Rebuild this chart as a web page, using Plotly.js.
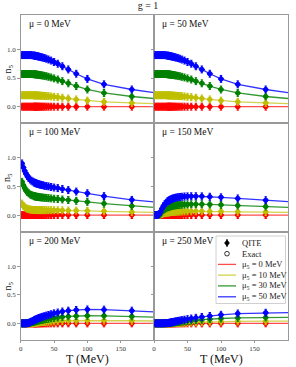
<!DOCTYPE html>
<html><head><meta charset="utf-8">
<script src="https://cdn.plot.ly/plotly-3.0.1.min.js"></script>
<style>html,body{margin:0;padding:0;background:#fff}#plot{width:296px;height:367px}</style>
</head><body><div id="plot"></div>
<script>
// ---------------- DATA ----------------
const T_exact = [2,4,6,8,10,12,14,16,18,20,20.8,21.7,22.7,23.8,25,26.3,27.8,29.4,31.3,33.3,35.7,38.5,41.7,45.5,50,55.6,62.5,71.4,83.3,100,125,166.7,200];
const T_qite  = [2,4,6,8,10,12,14,16,18,20,20.8,21.7,22.7,23.8,25,26.3,27.8,29.4,31.3,33.3,35.7,38.5,41.7,45.5,50,55.6,62.5,71.4,83.3,100,125,166.7];
const QITE_ERR = 0.06;
const muLabels = ['μ = 0 MeV','μ = 50 MeV','μ = 100 MeV','μ = 150 MeV','μ = 200 MeV','μ = 250 MeV'];
const mu5Labels = ['μ<sub>5</sub> = 0 MeV','μ<sub>5</sub> = 10 MeV','μ<sub>5</sub> = 30 MeV','μ<sub>5</sub> = 50 MeV'];
const xTicks = [0,50,100,150];
const yTicks = [0,0.5,1.0];
const yTickText = ['0.0','0.5','1.0'];

const red_all = [0,0,0,0,0,0,0,0,0,0,0,0,0,0,0,0,0,0,0,0,0,0,0,0,0,0,0,0,0,0,0,0,0];

// mu = 0
const mu0_y10 = [0.20,0.20,0.20,0.20,0.20,0.20,0.20,0.20,0.199,0.198, 0.198,0.197,0.197,0.196,0.195, 0.195,0.194,0.193,0.191,0.19, 0.188,0.186,0.183,0.178,0.173, 0.166,0.156,0.143,0.126,0.106, 0.085,0.065,0.053];
const mu0_y30 = [0.57,0.57,0.57,0.57,0.57,0.57,0.57,0.57,0.568,0.567, 0.566,0.564,0.563,0.561,0.559, 0.557,0.554,0.551,0.547,0.543, 0.538,0.531,0.522,0.51,0.494, 0.474,0.445,0.408,0.36,0.30, 0.24,0.178,0.143];
const mu0_y50 = [0.90,0.90,0.90,0.90,0.90,0.90,0.90,0.90,0.895,0.893, 0.89,0.888,0.886,0.883,0.88, 0.877,0.873,0.868,0.862,0.856, 0.848,0.837,0.823,0.805,0.78, 0.75,0.705,0.65,0.575,0.485, 0.39,0.30,0.245];
// mu = 50
const mu50_y10 = [0.20,0.20,0.20,0.20,0.20,0.20,0.20,0.20,0.199,0.198, 0.198,0.197,0.197,0.196,0.195, 0.195,0.194,0.193,0.191,0.19, 0.188,0.186,0.183,0.178,0.173, 0.166,0.156,0.143,0.126,0.106, 0.085,0.065,0.053];
const mu50_y30 = [0.57,0.57,0.57,0.57,0.57,0.57,0.57,0.57,0.568,0.567, 0.566,0.564,0.563,0.561,0.559, 0.557,0.554,0.551,0.547,0.543, 0.538,0.531,0.522,0.51,0.494, 0.474,0.445,0.408,0.36,0.30, 0.24,0.178,0.143];
const mu50_y50 = [0.90,0.90,0.90,0.90,0.90,0.90,0.90,0.90,0.895,0.893, 0.89,0.888,0.886,0.883,0.88, 0.877,0.873,0.868,0.862,0.856, 0.848,0.837,0.823,0.805,0.78, 0.75,0.705,0.65,0.575,0.485, 0.39,0.30,0.245];
// mu = 100
const mu100_y10 = [0.20,0.16,0.135,0.12,0.11,0.102,0.097,0.093,0.09,0.088, 0.088,0.088,0.087,0.087,0.087, 0.087,0.086,0.086,0.086,0.086, 0.085,0.085,0.085,0.085,0.084, 0.083,0.082,0.08,0.078,0.074, 0.066,0.054,0.046];
const mu100_y30 = [0.58,0.52,0.47,0.43,0.40,0.38,0.36,0.35,0.34,0.33, 0.328,0.325,0.322,0.32,0.318, 0.315,0.312,0.31,0.307,0.305, 0.302,0.298,0.294,0.29,0.285, 0.28,0.272,0.262,0.248,0.23, 0.20,0.16,0.135];
const mu100_y50 = [0.90,0.83,0.77,0.72,0.68,0.645,0.62,0.60,0.585,0.57, 0.565,0.56,0.555,0.55,0.545, 0.54,0.535,0.53,0.525,0.52, 0.51,0.505,0.50,0.49,0.48, 0.47,0.455,0.435,0.41,0.38, 0.33,0.265,0.23];
// mu = 150
const mu150_y10 = [0,0,0.001,0.004,0.012,0.02,0.028,0.035,0.04,0.044, 0.046,0.047,0.049,0.05,0.052, 0.053,0.055,0.056,0.057,0.059, 0.06,0.061,0.062,0.063,0.064, 0.065,0.065,0.065,0.064,0.062, 0.058,0.052,0.047];
const mu150_y30 = [0,0,0.003,0.012,0.035,0.06,0.085,0.105,0.12,0.133, 0.137,0.141,0.145,0.149,0.153, 0.157,0.161,0.165,0.168,0.172, 0.175,0.178,0.181,0.184,0.186, 0.188,0.189,0.188,0.185,0.178, 0.166,0.148,0.133];
const mu150_y50 = [0,0,0.005,0.02,0.06,0.11,0.155,0.19,0.215,0.235, 0.243,0.25,0.257,0.265,0.272, 0.28,0.287,0.294,0.30,0.306, 0.311,0.316,0.32,0.324,0.326, 0.328,0.328,0.326,0.32,0.31, 0.29,0.26,0.235];
// mu = 200
const mu200_y10 = [0,0,0,0,0.001,0.002,0.004,0.006,0.008,0.01, 0.011,0.012,0.013,0.014,0.016, 0.017,0.019,0.02,0.022,0.023, 0.025,0.027,0.029,0.032,0.035, 0.038,0.041,0.044,0.047,0.049, 0.049,0.046,0.042];
const mu200_y30 = [0,0,0,0,0.002,0.006,0.011,0.017,0.023,0.029, 0.032,0.035,0.038,0.041,0.044, 0.048,0.052,0.056,0.06,0.065, 0.07,0.075,0.081,0.088,0.096, 0.104,0.113,0.121,0.128,0.133, 0.132,0.122,0.11];
const mu200_y50 = [0,0,0,0,0.004,0.01,0.02,0.03,0.042,0.053, 0.058,0.063,0.068,0.074,0.08, 0.087,0.094,0.101,0.109,0.117, 0.126,0.136,0.147,0.16,0.175, 0.19,0.207,0.222,0.235,0.243, 0.24,0.222,0.20];
// mu = 250
const mu250_y10 = [0,0,0,0,0,0,0,0,0,0.001, 0.001,0.002,0.002,0.003,0.003, 0.004,0.005,0.006,0.007,0.008, 0.009,0.01,0.012,0.014,0.016, 0.018,0.021,0.024,0.028,0.032, 0.036,0.039,0.04];
const mu250_y30 = [0,0,0,0,0,0,0,0.001,0.002,0.003, 0.004,0.005,0.006,0.007,0.009, 0.011,0.013,0.015,0.018,0.021, 0.024,0.028,0.032,0.037,0.042, 0.048,0.056,0.064,0.074,0.085, 0.096,0.104,0.105];
const mu250_y50 = [0,0,0,0,0,0.001,0.001,0.002,0.003,0.005, 0.006,0.008,0.01,0.013,0.016, 0.019,0.023,0.027,0.032,0.037, 0.043,0.05,0.057,0.065,0.074, 0.085,0.098,0.113,0.13,0.15, 0.172,0.186,0.186];

const panels = [
  [red_all, mu0_y10, mu0_y30, mu0_y50],
  [red_all, mu50_y10, mu50_y30, mu50_y50],
  [red_all, mu100_y10, mu100_y30, mu100_y50],
  [red_all, mu150_y10, mu150_y30, mu150_y50],
  [red_all, mu200_y10, mu200_y30, mu200_y50],
  [red_all, mu250_y10, mu250_y30, mu250_y50]
];

// ---------------- STYLE ----------------
const FONT = 'Liberation Serif, Times New Roman, serif';
const markerColors = ['#ff0000','#bfbf00','#008000','#0000ff'];
const lineColors = ['rgba(255,0,0,0.7)','rgba(191,191,0,0.7)','rgba(0,128,0,0.8)','rgba(0,0,255,0.8)'];
const W = 296, H = 367;
const px = x => x / W, py = y => 1 - y / H;
const colX = [[20.7,154],[154,288]];
const rowY = [[15,123.3],[123.3,231.7],[231.7,340]];

const traces = [];
const layout = {
  width: W, height: H, margin:{l:0,r:0,t:0,b:0},
  paper_bgcolor:'#fff', plot_bgcolor:'#fff', showlegend:false,
  font:{family:FONT, color:'#222'},
  title:{text:'g = 1', x:0.5, xanchor:'center', y:py(5.5), yanchor:'middle', font:{family:FONT,size:10,color:'#222'}},
  annotations:[], shapes:[]
};

for (let p = 0; p < 6; p++) {
  const r = Math.floor(p/2), c = p % 2;
  const sfx = p === 0 ? '' : String(p+1);
  const xa = 'x'+sfx, ya = 'y'+sfx;
  layout['xaxis'+sfx] = {
    domain:[px(colX[c][0]), px(colX[c][1])], anchor:ya, range:[0,200],
    showline:true, mirror:true, linecolor:'#999', linewidth:1, showgrid:false, zeroline:false,
    tickvals:xTicks, ticks: r===2 ? 'outside' : '', ticklen:2, tickcolor:'#999',
    showticklabels: r===2, tickfont:{family:FONT,size:7,color:'#333'}
  };
  layout['yaxis'+sfx] = {
    domain:[py(rowY[r][1]), py(rowY[r][0])], anchor:xa, range:[-0.29,1.6],
    showline:true, mirror:true, linecolor:'#999', linewidth:1, showgrid:false, zeroline:false,
    tickvals:yTicks, ticktext:yTickText, ticks:'outside', ticklen:2.5, tickcolor:'#999',
    showticklabels: c===0, tickfont:{family:FONT,size:7,color:'#333'}
  };
  const series = panels[p];
  for (let s = 0; s < 4; s++) {
    traces.push({x:T_exact, y:series[s], xaxis:xa, yaxis:ya, mode:'lines', type:'scatter',
      line:{color:lineColors[s], width:1.3}, hoverinfo:'skip'});
  }
  for (let s = 0; s < 4; s++) {
    traces.push({x:T_qite, y:series[s].slice(0, T_qite.length), xaxis:xa, yaxis:ya, mode:'markers', type:'scatter',
      marker:{symbol:'circle-open', size:4.5, color:markerColors[s], line:{width:0.8}}, hoverinfo:'skip'});
  }
  for (let s = 0; s < 4; s++) {
    traces.push({x:T_qite, y:series[s].slice(0, T_qite.length), xaxis:xa, yaxis:ya, mode:'markers', type:'scatter',
      marker:{symbol:'diamond', size:5, color:markerColors[s]},
      error_y:{type:'constant', value:QITE_ERR, thickness:1, width:1.2, color:markerColors[s]}, hoverinfo:'skip'});
  }
  layout.annotations.push({text:muLabels[p], xref:'paper', yref:'paper',
    x:px(colX[c][0]+6), y:py(rowY[r][0]+9), xanchor:'left', yanchor:'middle', showarrow:false,
    font:{family:FONT,size:9.5,color:'#111'}});
}

[69,177.5,286].forEach(yc => layout.annotations.push({text:'n<sub>5</sub>', xref:'paper', yref:'paper',
  x:px(7.5), y:py(yc), textangle:-90, showarrow:false, xanchor:'center', yanchor:'middle',
  font:{family:FONT,size:10,color:'#111'}}));
[87.3,221].forEach(xc => layout.annotations.push({text:'T (MeV)', xref:'paper', yref:'paper',
  x:px(xc), y:py(359), showarrow:false, xanchor:'center', yanchor:'middle',
  font:{family:FONT,size:12,color:'#111'}}));

// manual legend
layout.shapes.push({type:'rect', xref:'paper', yref:'paper', x0:px(216), x1:px(285.5), y0:py(236), y1:py(303.5),
  fillcolor:'rgba(255,255,255,0.9)', line:{color:'#d0d0d0', width:1}, layer:'above'});
const legY = [243, 253.7, 264.4, 275.1, 285.9, 296.8];
const sx = 227;
layout.shapes.push({type:'line', xref:'paper', yref:'paper', x0:px(sx), x1:px(sx), y0:py(legY[0]-4), y1:py(legY[0]+4), line:{color:'#000',width:1}, layer:'above'});
layout.shapes.push({type:'path', xref:'paper', yref:'paper', layer:'above', fillcolor:'#000', line:{color:'#000',width:0.5},
  path:`M ${px(sx-2.5)} ${py(legY[0])} L ${px(sx)} ${py(legY[0]-3.2)} L ${px(sx+2.5)} ${py(legY[0])} L ${px(sx)} ${py(legY[0]+3.2)} Z`});
layout.shapes.push({type:'circle', xref:'paper', yref:'paper', layer:'above', x0:px(sx-2.3), x1:px(sx+2.3), y0:py(legY[1]-2.3), y1:py(legY[1]+2.3), line:{color:'#000',width:0.8}});
const legTexts = ['QITE','Exact'].concat(mu5Labels);
for (let i = 0; i < 6; i++) {
  if (i >= 2) {
    layout.shapes.push({type:'line', xref:'paper', yref:'paper', layer:'above', x0:px(218), x1:px(236), y0:py(legY[i]), y1:py(legY[i]),
      line:{color:lineColors[i-2], width:1.3}});
  }
  layout.annotations.push({text:legTexts[i], xref:'paper', yref:'paper', x:px(240), y:py(legY[i]),
    xanchor:'left', yanchor:'middle', showarrow:false, font:{family:FONT,size:8.5,color:'#222'}});
}

Plotly.newPlot('plot', traces, layout, {staticPlot:true, displayModeBar:false});
</script></body></html>
